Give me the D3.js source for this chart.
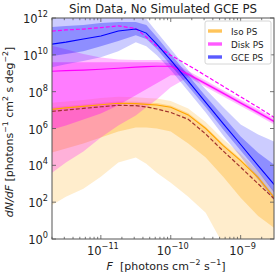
<!DOCTYPE html>
<html><head><meta charset="utf-8">
<script src="https://cdn.jsdelivr.net/npm/d3@7"></script>
<style>body{margin:0;background:#fff;}svg{display:block;font-family:"DejaVu Sans",sans-serif;}</style>
</head><body>
<svg id="c" width="279" height="277"></svg>
<script>
// x grid: log10 F
const logF = [-11.7,-11.5,-11.25,-11.0,-10.75,-10.5,-10.35,-10.2,-10.0,-9.75,-9.5,-9.25,-9.0,-8.75,-8.52];
// values are log10(dN/dF)
const isoMedian = [7.04,7.12,7.2,7.29,7.37,7.35,7.31,7.28,7.15,6.74,6.0,5.07,4.26,3.33,2.24];
const isoTruth  = [6.93,7.0,7.09,7.18,7.26,7.24,7.17,7.06,6.87,6.5,5.7,4.78,3.9,3.0,2.18];
const isoInnerHi = [7.15,7.22,7.3,7.4,7.47,7.45,7.41,7.38,7.25,6.84,6.1,5.17,4.36,3.43,2.34];
const isoInnerLo = [4.69,4.91,5.18,5.51,5.84,6.06,6.06,6.0,5.84,5.18,4.42,3.38,2.24,1.25,0.6];
const isoOuterHi = [7.4,7.47,7.55,7.65,7.72,7.7,7.66,7.63,7.5,7.09,6.35,5.42,4.61,3.68,2.6];
const isoOuterLo = [1.85,2.29,2.73,3.38,4.15,4.42,4.09,3.6,3.06,2.29,1.42,-0.3,-1.5,-2.5,-3.0];

const diskMedian = [9.11,9.14,9.17,9.22,9.27,9.33,9.36,9.38,9.38,8.95,8.43,7.91,7.39,6.87,6.38];
const diskTruth  = [11.29,11.35,11.40,11.48,11.57,11.43,10.97,10.47,9.98,9.44,8.87,8.29,7.72,7.15,6.6];
const diskInnerHi = [9.6,9.6,9.6,9.6,9.6,9.6,9.6,9.6,9.55,9.03,8.51,7.99,7.47,6.95,6.46];
const diskInnerLo = [5.95,6.16,6.49,6.82,7.26,7.8,8.13,8.46,8.89,8.87,8.35,7.83,7.31,6.79,6.30];
const diskOuterHi = [10.5,10.3,10.05,9.85,9.75,9.72,9.72,9.72,9.7,9.12,8.6,8.08,7.56,7.04,6.55];
const diskOuterLo = [3.6,4.15,4.75,5.51,6.16,6.71,7.15,7.58,8.24,8.78,8.26,7.74,7.22,6.7,6.21];

const gceMedian = [10.58,10.69,10.86,11.02,11.29,11.40,11.18,10.58,9.71,8.57,7.42,6.27,5.13,3.98,2.95];
const gceInnerHi = [11.51,11.57,11.62,11.73,11.78,11.78,11.62,10.97,10.04,8.89,7.75,6.66,5.56,4.69,4.04];
const gceInnerLo = [9.93,10.04,10.2,10.47,10.75,11.07,10.86,10.31,9.44,8.29,7.15,5.95,4.8,3.66,2.51];
const gceOuterHi = [12.11,12.11,12.11,12.11,12.11,12.05,11.95,11.24,10.31,9.16,8.13,7.15,6.22,5.67,5.29];
const gceOuterLo = [9.33,9.49,9.66,9.87,10.2,10.69,10.47,9.98,9.17,8.02,6.87,5.62,4.47,3.22,2.07];

const seriesNames = ["Iso PS","Disk PS","GCE PS"];
const seriesColors = ["#ffa500","#ff00ff","#0000ff"];
const xTickLabels = ["-11","-10","-9"];
const yTickLabels = ["0","2","4","6","8","10","12"];
const titleText = "Sim Data, No Simulated GCE PS";

const svg = d3.select("#c");
const L=52,R=274,T=18,B=239;
const x = d3.scaleLog().domain([2e-12,3e-9]).range([L,R]);
const y = d3.scaleLog().domain([1,1e12]).range([B,T]);

svg.append("defs").append("clipPath").attr("id","clip").append("rect")
  .attr("x",L).attr("y",T).attr("width",R-L).attr("height",B-T);
const plot = svg.append("g").attr("clip-path","url(#clip)");

function band(hi, lo, color, op){
  const a = d3.area().x((d,i)=>x(10**logF[i])).y0((d,i)=>y(10**lo[i])).y1((d,i)=>y(10**hi[i]));
  plot.append("path").datum(logF).attr("d",a).attr("fill",color).attr("fill-opacity",op).attr("stroke","none");
}
function line(vals, color, w, dash){
  const l = d3.line().x((d,i)=>x(10**logF[i])).y((d,i)=>y(10**vals[i]));
  const p = plot.append("path").datum(logF).attr("d",l).attr("fill","none").attr("stroke",color).attr("stroke-width",w);
  if(dash) p.attr("stroke-dasharray",dash);
}
band(isoOuterHi, isoOuterLo, seriesColors[0], 0.2);
band(isoInnerHi, isoInnerLo, seriesColors[0], 0.3);
band(diskOuterHi, diskOuterLo, seriesColors[1], 0.25);
band(diskInnerHi, diskInnerLo, seriesColors[1], 0.35);
band(gceOuterHi, gceOuterLo, seriesColors[2], 0.2);
band(gceInnerHi, gceInnerLo, seriesColors[2], 0.3);
line(isoMedian, seriesColors[0], 1.1);
line(isoTruth, "#a0302a", 1.2, "4,2");
line(diskMedian, seriesColors[1], 1.1);
line(diskTruth, seriesColors[1], 1.2, "4,2");
line(gceMedian, seriesColors[2], 1.1);

// frame
const axCol="#555";
svg.append("rect").attr("x",L).attr("y",T).attr("width",R-L).attr("height",B-T)
  .attr("fill","none").attr("stroke",axCol).attr("stroke-width",1);

// ticks
const g = svg.append("g");
for(let e=-12;e<=-8;e++){
  for(let m=1;m<=9;m++){
    const v=m*10**e; if(v<2e-12||v>3e-9) continue;
    const px=x(v); const len = m===1?4:2.2;
    g.append("line").attr("x1",px).attr("x2",px).attr("y1",B).attr("y2",B-len).attr("stroke",axCol).attr("stroke-width",0.8);
    g.append("line").attr("x1",px).attr("x2",px).attr("y1",T).attr("y2",T+len).attr("stroke",axCol).attr("stroke-width",0.8);
  }
}
yTickLabels.forEach(s=>{
  const py=y(10**(+s));
  g.append("line").attr("x1",L).attr("x2",L+4).attr("y1",py).attr("y2",py).attr("stroke",axCol).attr("stroke-width",0.8);
  g.append("line").attr("x1",R).attr("x2",R-4).attr("y1",py).attr("y2",py).attr("stroke",axCol).attr("stroke-width",0.8);
  const t=g.append("text").attr("x",L-4).attr("y",py+5).attr("text-anchor","end").attr("font-size",11.5).attr("fill","#222");
  t.append("tspan").text("10");
  t.append("tspan").attr("dy",-6).attr("font-size",8.2).text(s);
});
xTickLabels.forEach(s=>{
  const px=x(10**(+s));
  const t=g.append("text").attr("x",px+2).attr("y",B+16).attr("text-anchor","middle").attr("font-size",11.5).attr("fill","#222");
  t.append("tspan").text("10");
  t.append("tspan").attr("dy",-6).attr("font-size",8.2).text("\u2212"+s.slice(1));
});

// title
svg.append("text").attr("x",163).attr("y",13).attr("text-anchor","middle").attr("font-size",11.8).attr("fill","#222").text(titleText);

// x label
const xl = svg.append("text").attr("x",166).attr("y",270).attr("text-anchor","middle").attr("font-size",11).attr("fill","#222");
xl.append("tspan").attr("font-style","italic").text("F");
xl.append("tspan").text("\u00a0 [photons cm");
xl.append("tspan").attr("dy",-5).attr("font-size",7.8).text("\u22122");
xl.append("tspan").attr("dy",5).text(" s");
xl.append("tspan").attr("dy",-5).attr("font-size",7.8).text("\u22121");
xl.append("tspan").attr("dy",5).text("]");

// y label
const yl = svg.append("text").attr("transform","translate(13,132) rotate(-90)").attr("text-anchor","middle").attr("font-size",11).attr("fill","#222");
yl.append("tspan").attr("font-style","italic").text("dN/dF");
yl.append("tspan").text(" [photons");
yl.append("tspan").attr("dy",-5).attr("font-size",7.8).text("\u22121");
yl.append("tspan").attr("dy",5).text(" cm");
yl.append("tspan").attr("dy",-5).attr("font-size",7.8).text("2");
yl.append("tspan").attr("dy",5).text(" s deg");
yl.append("tspan").attr("dy",-5).attr("font-size",7.8).text("\u22122");
yl.append("tspan").attr("dy",5).text("]");

// legend
const lg = svg.append("g");
lg.append("rect").attr("x",205).attr("y",21).attr("width",66).attr("height",43).attr("rx",2)
  .attr("fill","#fff").attr("fill-opacity",0.85).attr("stroke","#ccc").attr("stroke-width",0.8);
seriesNames.forEach((n,i)=>{
  const ly = 31+i*13;
  lg.append("line").attr("x1",208).attr("x2",222).attr("y1",ly).attr("y2",ly).attr("stroke",seriesColors[i]).attr("stroke-width",4).attr("stroke-opacity",0.45);
  lg.append("line").attr("x1",208).attr("x2",222).attr("y1",ly).attr("y2",ly).attr("stroke",seriesColors[i]).attr("stroke-width",1).attr("stroke-opacity",0.7);
  lg.append("text").attr("x",231).attr("y",ly+3.5).attr("font-size",8.8).attr("fill","#222").text(n);
});
</script>
</body></html>
